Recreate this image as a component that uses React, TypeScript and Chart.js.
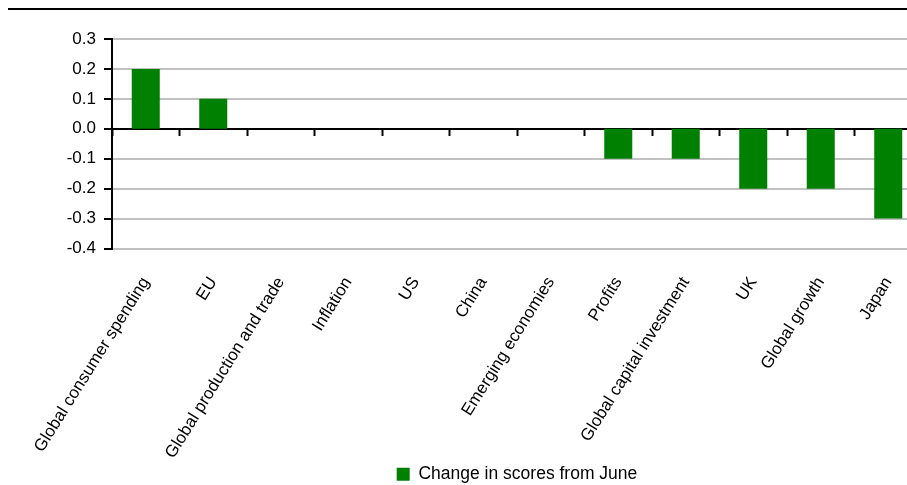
import React, { useEffect, useRef } from "react";
import { Chart, registerables } from "chart.js";

Chart.register(...registerables);

const categories = [
  "Global consumer spending",
  "EU",
  "Global production and trade",
  "Inflation",
  "US",
  "China",
  "Emerging economies",
  "Profits",
  "Global capital investment",
  "UK",
  "Global growth",
  "Japan",
];

const changeFromJune = [0.2, 0.1, 0, 0, 0, 0, 0, -0.1, -0.1, -0.2, -0.2, -0.3];

const seriesLabel = "Change in scores from June";

const yMin = -0.4;
const yMax = 0.3;
const yStep = 0.1;

const FONT = "'Liberation Sans', Arial, sans-serif";

// Thin rule across the top of the figure
const topRule = {
  id: "topRule",
  afterDraw(chart: Chart) {
    const ctx = chart.ctx;
    ctx.save();
    ctx.strokeStyle = "#000";
    ctx.lineWidth = 2;
    ctx.beginPath();
    ctx.moveTo(8, 9);
    ctx.lineTo(chart.width, 9);
    ctx.stroke();
    ctx.restore();
  },
};

const fmt = (v: number) => {
  const r = Math.round(v * 10) / 10;
  return (Math.abs(r) < 1e-9 ? 0 : r).toFixed(1);
};

export default function App() {
  const ref = useRef<HTMLCanvasElement | null>(null);

  useEffect(() => {
    document.body.style.margin = "0";
    if (!ref.current) return;
    const chart = new Chart(ref.current, {
      type: "bar",
      data: {
        labels: categories,
        datasets: [
          {
            label: seriesLabel,
            data: changeFromJune,
            backgroundColor: "#008000",
            borderWidth: 0,
            categoryPercentage: 1,
            barPercentage: 0.415,
            xAxisID: "x",
            yAxisID: "y",
          },
        ],
      },
      options: {
        animation: false,
        responsive: false,
        devicePixelRatio: 1,
        layout: { padding: { top: 39, right: 8, left: 0, bottom: 0 } },
        plugins: {
          tooltip: { enabled: false },
          legend: {
            position: "bottom",
            fullSize: false,
            labels: {
              boxWidth: 13,
              boxHeight: 13,
              padding: 4,
              color: "#000",
              font: { family: FONT, size: 17.5 },
            },
          },
        },
        scales: {
          x: {
            type: "category",
            offset: true,
            grid: { display: false, drawTicks: false },
            border: { display: false },
            ticks: {
              color: "#000",
              font: { family: FONT, size: 17 },
              minRotation: 58,
              maxRotation: 58,
              autoSkip: false,
              padding: 25,
            },
            afterFit(scale: any) {
              scale.height = 213;
              scale.paddingLeft = 0;
              scale.paddingRight = 0;
            },
          },
          zero: {
            type: "category",
            axis: "x",
            position: { y: 0 },
            offset: true,
            z: 1,
            grid: {
              offset: true,
              drawOnChartArea: false,
              drawTicks: true,
              tickLength: 6,
              tickColor: "#000",
              tickWidth: 2,
            },
            border: { display: true, color: "#000", width: 2 },
            ticks: { display: false },
          },
          y: {
            min: yMin,
            max: yMax,
            grid: {
              color: "#c0c0c0",
              lineWidth: 2,
              tickColor: "#000",
              tickWidth: 2,
              tickLength: 8,
            },
            border: { display: true, color: "#000", width: 2 },
            ticks: {
              stepSize: yStep,
              color: "#000",
              padding: 8,
              font: { family: FONT, size: 17 },
              callback: (v: any) => fmt(Number(v)),
            },
            afterFit(scale: any) {
              scale.width = 112;
            },
          },
        },
      },
      plugins: [topRule],
    } as any);
    return () => chart.destroy();
  }, []);

  return (
    <div style={{ width: 907, height: 485, overflow: "hidden", background: "#fff" }}>
      <canvas ref={ref} width={930} height={493} style={{ display: "block" }} />
    </div>
  );
}
